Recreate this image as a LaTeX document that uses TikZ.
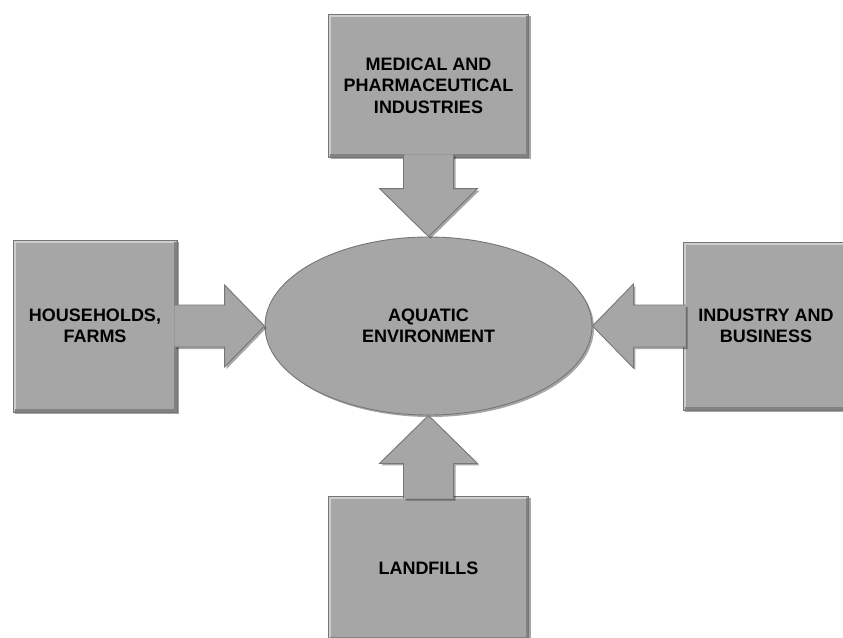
\documentclass[tikz,border=0pt]{standalone}
\usepackage{fontspec}
\setmainfont{Liberation Sans}
\usetikzlibrary{shapes.geometric,shadows,calc}
\definecolor{boxgray}{RGB}{166,166,166}
\definecolor{edgegray}{RGB}{118,118,118}
\definecolor{hilite}{RGB}{205,205,205}
\definecolor{lowlite}{RGB}{130,130,130}
\tikzset{
  shade3d/.style={drop shadow={shadow xshift=2pt, shadow yshift=-2pt, opacity=0.35, fill=black}},
  txt/.style={font=\fontsize{18}{21.5}\selectfont\bfseries},
  bevel/.style={path picture={
    \draw[hilite, line width=2.5pt]
      ([xshift=1.5pt,yshift=1.5pt]path picture bounding box.south west)
      |- ([xshift=-1.5pt,yshift=-1.5pt]path picture bounding box.north east);
    \draw[lowlite, line width=2.5pt]
      ([xshift=1.5pt,yshift=1.5pt]path picture bounding box.south west)
      -| ([xshift=-1.5pt,yshift=-1.5pt]path picture bounding box.north east);}},
  srcbox/.style={rectangle, fill=boxgray, draw=edgegray, line width=0.9pt, inner sep=0pt,
    align=center, txt, shade3d, bevel},
  envell/.style={ellipse, fill=boxgray, draw=edgegray, line width=0.9pt, inner sep=0pt,
    minimum width=327pt, minimum height=178pt, align=center, txt, shade3d},
  blockarrow/.style={fill=boxgray, draw=edgegray, line width=0.9pt, line join=miter, shade3d}
}
\begin{document}
\begin{tikzpicture}[x=1pt, y=-1pt]
\useasboundingbox (0,0) rectangle (843,637);
\node[srcbox, minimum width=200pt, minimum height=143pt] (top) at (428.5,85.5)
  {MEDICAL AND\\PHARMACEUTICAL\\INDUSTRIES};
\node[srcbox, minimum width=164pt, minimum height=172pt] (left) at (95,326)
  {HOUSEHOLDS,\\FARMS};
\node[srcbox, minimum width=166pt, minimum height=168pt] (right) at (766,326)
  {INDUSTRY AND\\BUSINESS};
\node[srcbox, minimum width=200pt, minimum height=144pt] (bottom) at (428.5,568)
  {LANDFILLS};
\node[envell] (ell) at (428.5,326) {AQUATIC\\ENVIRONMENT};
% block arrows
\filldraw[blockarrow] ($(top.south)+(-25,-3)$) -- ($(ell.north)+(-25,-48)$)
  -- ($(ell.north)+(-49,-48)$) -- (ell.north) -- ($(ell.north)+(49,-48)$)
  -- ($(ell.north)+(25,-48)$) -- ($(top.south)+(25,-3)$);
\filldraw[blockarrow] ($(bottom.north)+(-25,3)$) -- ($(ell.south)+(-25,48)$)
  -- ($(ell.south)+(-49,48)$) -- (ell.south) -- ($(ell.south)+(49,48)$)
  -- ($(ell.south)+(25,48)$) -- ($(bottom.north)+(25,3)$);
\filldraw[blockarrow] ($(left.east)+(-3,-21)$) -- ($(ell.west)+(-40,-21)$)
  -- ($(ell.west)+(-40,-41)$) -- (ell.west) -- ($(ell.west)+(-40,41)$)
  -- ($(ell.west)+(-40,21)$) -- ($(left.east)+(-3,21)$);
\filldraw[blockarrow] ($(right.west)+(3,-21)$) -- ($(ell.east)+(41,-21)$)
  -- ($(ell.east)+(41,-42)$) -- (ell.east) -- ($(ell.east)+(41,42)$)
  -- ($(ell.east)+(41,21)$) -- ($(right.west)+(3,21)$);
\end{tikzpicture}
\end{document}
